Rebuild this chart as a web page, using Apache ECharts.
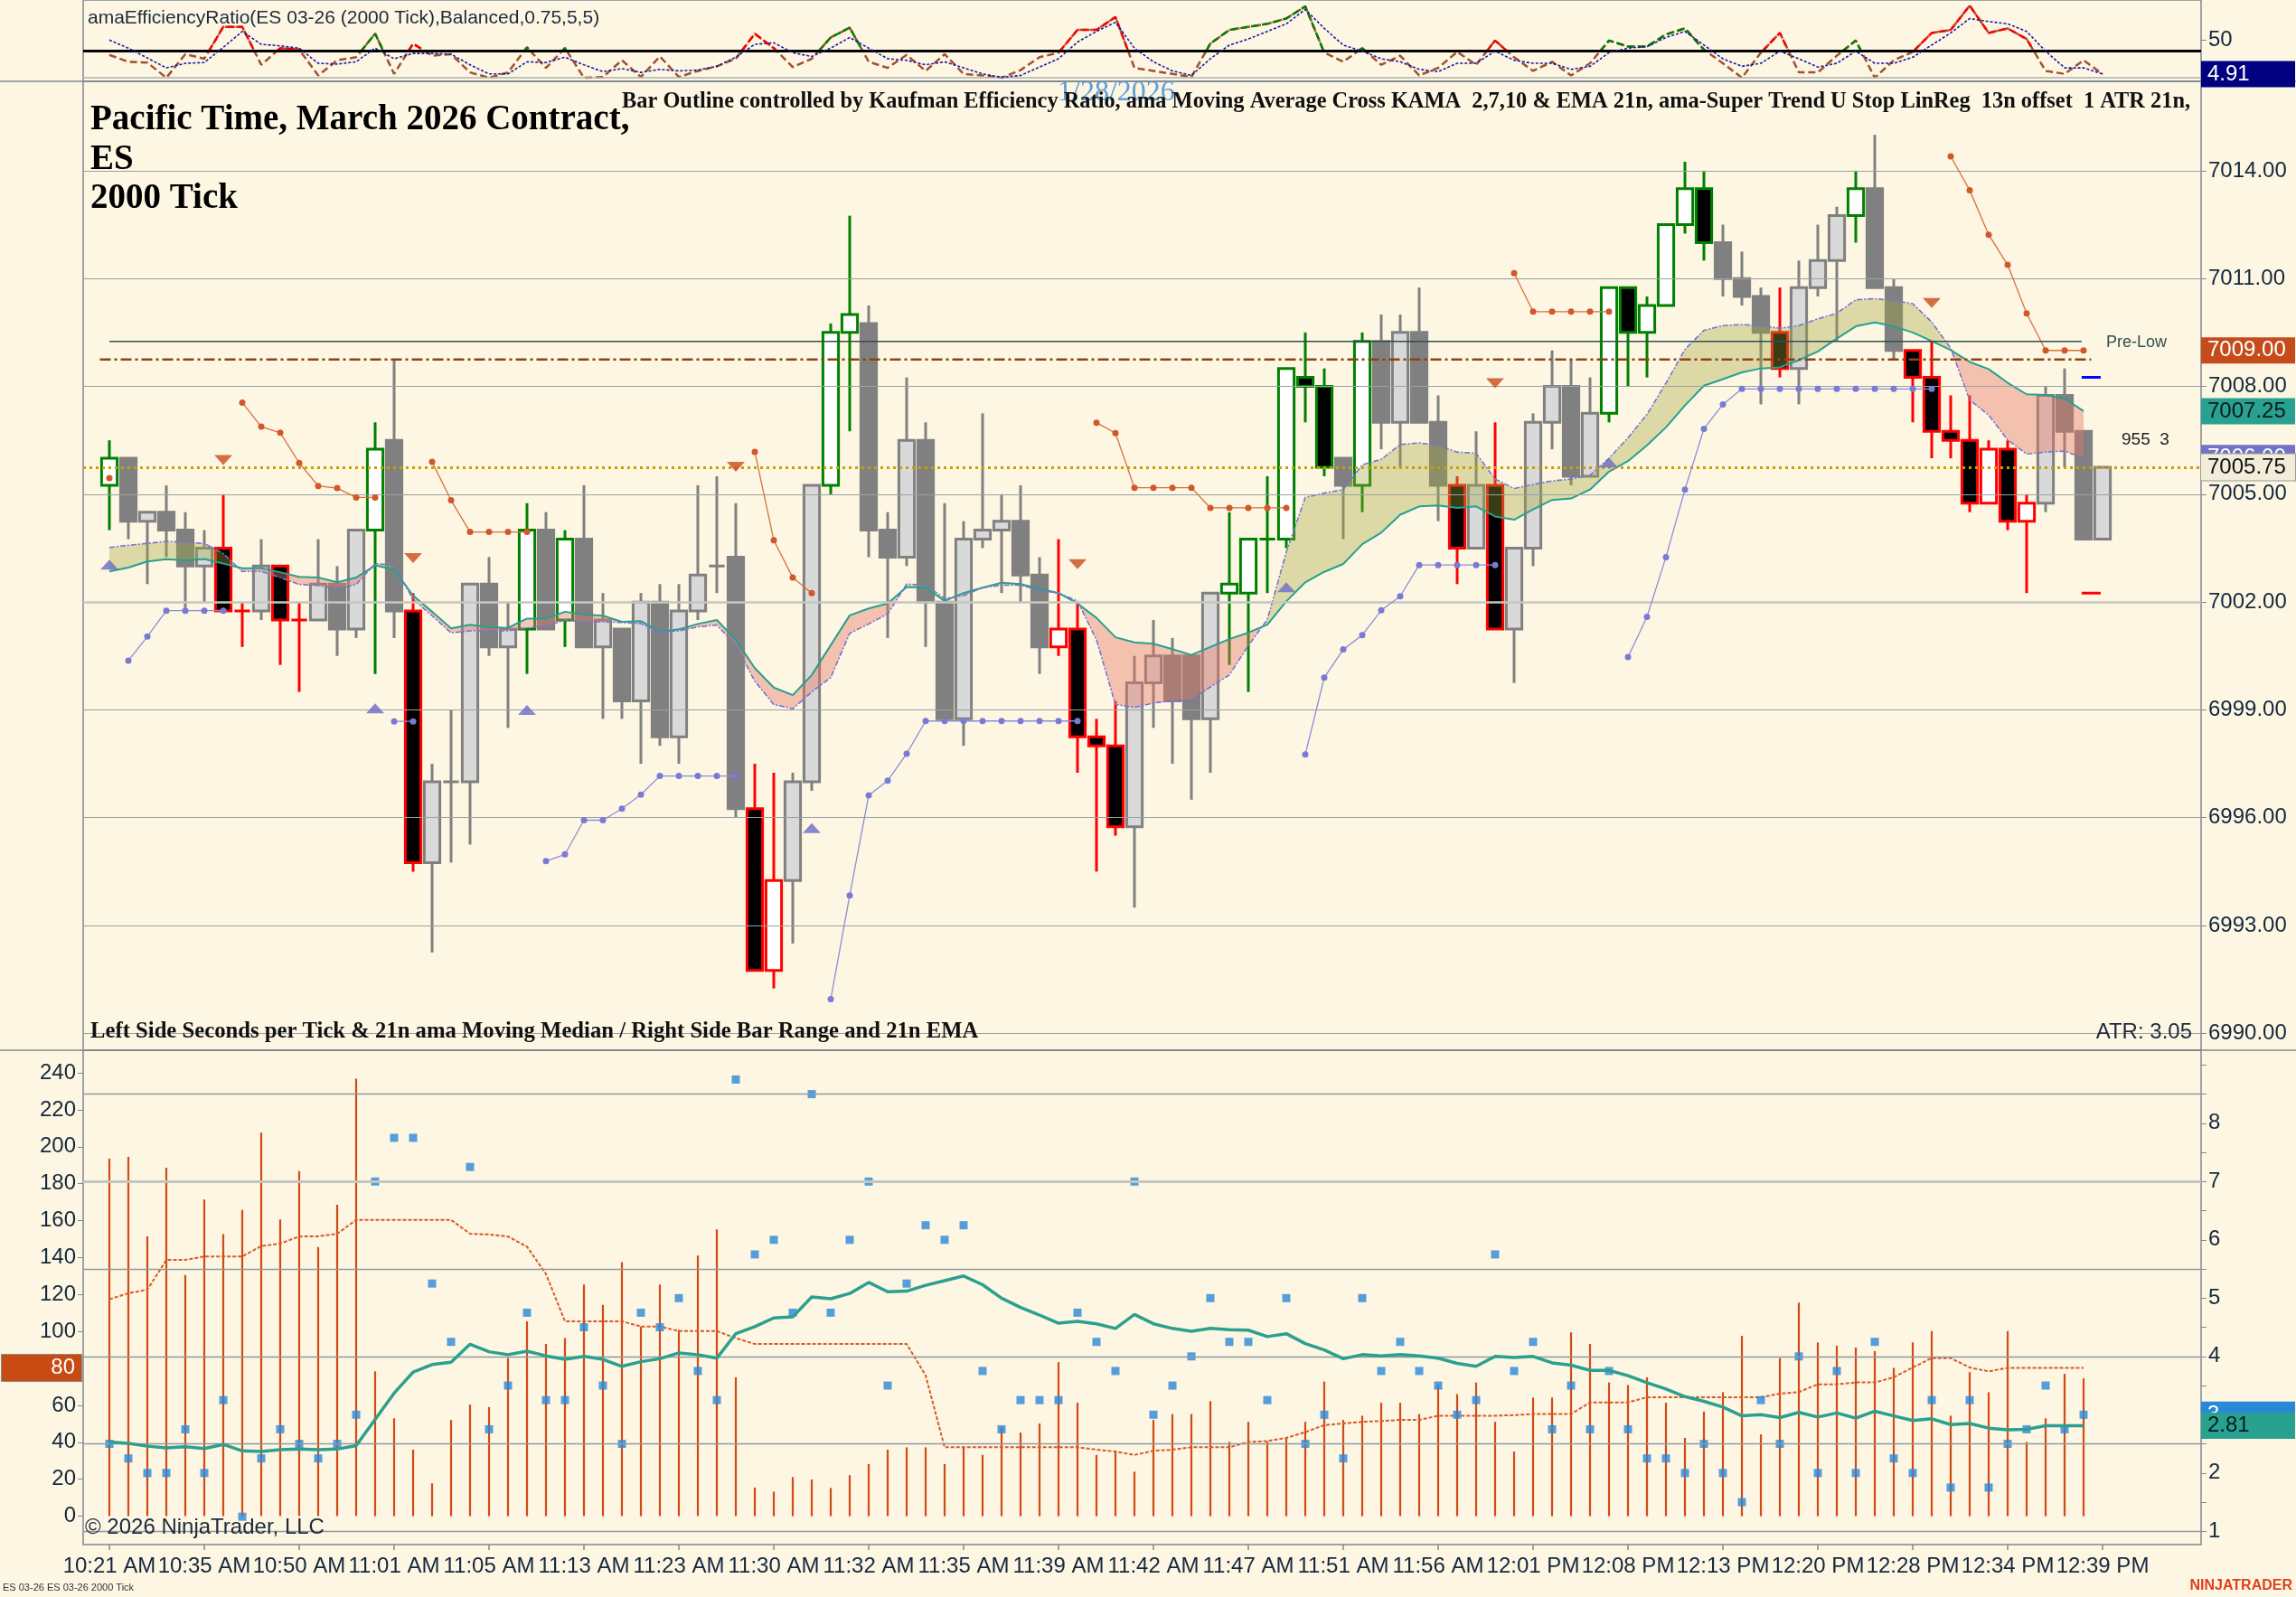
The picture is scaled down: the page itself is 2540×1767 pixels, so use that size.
<!DOCTYPE html>
<html><head><meta charset="utf-8">
<script src="https://cdn.jsdelivr.net/npm/echarts@6.0.0/dist/echarts.min.js"></script>
<style>html,body{margin:0;padding:0;background:#fdf6e3;}#c{width:2540px;height:1767px;}</style>
</head><body><div id="c"></div><script>
// ---------------- DATA ----------------
const tickLabels = ['10:21 AM','10:35 AM','10:50 AM','11:01 AM','11:05 AM','11:13 AM','11:23 AM','11:30 AM','11:32 AM','11:35 AM','11:39 AM','11:42 AM','11:47 AM','11:51 AM','11:56 AM','12:01 PM','12:08 PM','12:13 PM','12:20 PM','12:28 PM','12:34 PM','12:39 PM'];
const priceTicks = [6990,6993,6996,6999,7002,7005,7008,7011,7014];
const secTicks = [0,20,40,60,80,100,120,140,160,180,200,220,240];
const rangeTicks = [1,2,3,4,5,6,7,8];
const rangeGrid = [1,2.5,4,5.5,7,8.5];

const openP = [7005.25,7006.0,7004.25,7004.5,7004.0,7003.0,7003.5,7001.75,7001.75,7003.0,
7001.5,7001.5,7002.5,7001.25,7004.0,7006.5,7001.75,6994.75,6997.0,6997.0,
7002.5,7000.75,7001.25,7004.0,7001.5,7003.75,7000.75,7001.25,6999.25,7002.0,
6998.25,7001.75,7003.0,7003.25,6996.25,6991.75,6994.25,6997.0,7005.25,7009.5,
7009.75,7004.0,7003.25,7006.5,7002.0,6998.75,7003.75,7004.0,7004.25,7002.75,
7000.75,7001.25,6998.25,6998.0,6995.75,6999.75,7000.5,7000.5,6998.75,7002.25,
7002.25,7003.75,7003.75,7008.25,7008.0,7006.0,7005.25,7009.25,7007.0,7009.5,
7007.0,7005.25,7003.5,7005.25,7001.25,7003.5,7007.0,7008.0,7005.5,7007.25,
7010.75,7009.5,7010.25,7012.5,7013.5,7012.0,7011.0,7010.5,7009.5,7008.5,
7010.75,7011.5,7012.75,7013.5,7010.75,7009.0,7008.25,7006.75,7006.5,7004.75,
7006.25,7004.25,7004.75,7007.75,7006.75,7003.75];
const highP = [7006.5,7006.0,7004.5,7005.25,7004.5,7004.0,7005.0,7002.0,7003.75,7003.0,
7002.0,7003.75,7003.0,7004.0,7007.0,7008.75,7002.25,6997.5,6999.0,7002.5,
7003.25,7002.0,7004.75,7004.5,7004.0,7005.25,7002.25,7001.25,7002.25,7002.5,
7002.5,7005.25,7005.5,7004.75,6997.5,6997.25,6997.25,7005.25,7009.75,7012.75,
7010.25,7004.5,7008.25,7007.0,7004.75,7004.25,7007.25,7005.0,7005.25,7003.25,
7003.75,7002.0,6998.75,6999.25,7000.5,7001.5,7001.0,7000.5,7002.25,7004.5,
7003.75,7005.5,7008.5,7009.5,7008.5,7006.0,7009.5,7010.0,7010.0,7010.75,
7007.75,7005.5,7006.75,7007.0,7003.5,7007.25,7009.0,7008.75,7008.25,7010.75,
7010.75,7010.5,7012.5,7014.25,7014.0,7012.5,7011.75,7010.75,7010.75,7011.5,
7012.5,7013.0,7014.0,7015.0,7011.0,7009.0,7009.25,7007.75,7007.75,7006.5,
7006.5,7005.0,7008.0,7008.5,7006.75,7005.75];
const lowP = [7004.0,7003.75,7002.5,7003.25,7001.75,7002.0,7001.75,7000.75,7001.5,7000.25,
6999.5,7001.5,7000.5,7001.0,7000.0,7001.0,6994.5,6992.25,6994.75,6995.25,
7000.5,6998.5,7000.0,7001.25,7000.75,7000.75,6998.75,6998.75,6997.5,6998.0,
6997.5,7001.5,7002.25,6996.0,6991.75,6991.25,6992.5,6996.75,7005.0,7006.75,
7003.25,7001.0,7003.0,7000.75,6998.75,6998.0,7003.5,7002.25,7002.0,7000.0,
7000.5,6997.25,6994.5,6995.5,6993.5,6998.5,6997.5,6996.5,6997.25,7000.25,
6999.5,7002.25,7003.5,7007.0,7005.5,7003.75,7004.5,7006.25,7005.75,7007.0,
7004.25,7002.5,7003.5,7001.25,6999.75,7003.0,7006.25,7005.25,7005.5,7007.0,
7008.0,7008.25,7010.25,7012.25,7011.5,7010.5,7010.25,7007.5,7008.25,7007.5,
7010.5,7009.25,7012.0,7010.75,7008.75,7007.0,7006.0,7006.0,7004.5,7004.75,
7004.0,7002.25,7004.5,7005.75,7003.75,7003.75];
const closeP = [7006.0,7004.25,7004.5,7004.0,7003.0,7003.5,7001.75,7001.75,7003.0,7001.5,
7001.5,7002.5,7001.25,7004.0,7006.25,7001.75,6994.75,6997.0,6997.0,7002.5,
7000.75,7001.25,7004.0,7001.25,7003.75,7000.75,7001.5,6999.25,7002.0,6998.25,
7001.75,7002.75,7003.0,6996.25,6991.75,6994.25,6997.0,7005.25,7009.5,7010.0,
7004.0,7003.25,7006.5,7002.0,6998.75,7003.75,7004.0,7004.25,7002.75,7000.75,
7001.25,6998.25,6998.0,6995.75,6999.75,7000.5,6999.25,6998.75,7002.25,7002.5,
7003.75,7003.75,7008.5,7008.0,7005.75,7005.25,7009.25,7007.0,7009.5,7007.0,
7005.25,7003.5,7005.25,7001.25,7003.5,7007.0,7008.0,7005.5,7007.25,7010.75,
7009.5,7010.25,7012.5,7013.5,7012.0,7011.0,7010.5,7009.5,7008.5,7010.75,
7011.5,7012.75,7013.5,7010.75,7009.0,7008.25,7006.75,7006.5,7004.75,7006.25,
7004.25,7004.75,7007.75,7006.75,7003.75,7005.75];
// bar outline: g = efficient up, r = efficient down, n = neutral
const outlineFlags = 'gnnnnnrrnr'+'rnnngnrnnn'+'nngngnnnnn'+'nnnnrrnngg'+'nnnnnnnnnn'+'rrrrnnnnng'+'gggggngnnn'+'nrnrnnnnng'+'gggggnnnrn'+'nngnnrrrrr'+'rrnnnn';

const emaP = [7002.85,7002.96,7003.13,7003.19,7003.16,7003.2,7003.07,7002.94,7002.94,7002.83,
7002.7,7002.68,7002.55,7002.68,7003.02,7002.9,7002.18,7001.73,7001.27,7001.37,
7001.3,7001.28,7001.54,7001.54,7001.73,7001.65,7001.62,7001.45,7001.47,7001.17,
7001.24,7001.39,7001.5,7000.95,7000.16,6999.62,6999.41,6999.97,7000.8,7001.63,
7001.82,7001.96,7002.42,7002.4,7002.03,7002.25,7002.4,7002.54,7002.5,7002.37,
7002.25,7001.96,7001.56,7001.02,7000.88,7000.84,7000.69,7000.53,7000.75,7000.97,
7001.15,7001.37,7002.02,7002.55,7002.84,7003.06,7003.61,7003.93,7004.43,7004.66,
7004.69,7004.62,7004.66,7004.38,7004.29,7004.58,7004.84,7004.88,7005.13,7005.63,
7005.92,7006.36,7006.86,7007.47,7008.02,7008.2,7008.39,7008.5,7008.53,7008.73,
7008.97,7009.33,7009.67,7009.78,7009.67,7009.5,7009.26,7009.01,7008.68,7008.48,
7008.1,7007.78,7007.76,7007.66,7007.31,null];
const kamaP = [7003.52,7003.58,7003.63,7003.69,7003.66,7003.63,7003.35,7002.85,7002.85,7002.68,
7002.49,7002.46,7002.37,7002.49,7003.07,7003.02,7002.07,7001.62,7001.14,7001.2,
7001.2,7001.2,7001.28,7001.33,7001.5,7001.45,7001.45,7001.43,7001.4,7001.17,
7001.2,7001.31,7001.36,7000.8,6999.8,6999.15,6999.03,6999.5,6999.9,7001.13,
7001.39,7001.67,7002.5,7002.47,7002.1,7002.18,7002.4,7002.47,7002.47,7002.33,
7002.25,7002.03,7000.95,6999.15,6999.07,6999.19,6999.25,6999.28,6999.64,6999.97,
7000.79,7001.51,7003.39,7004.91,7005.03,7005.13,7005.82,7005.97,7006.38,7006.43,
7006.36,7006.17,7006.14,7005.42,7005.16,7005.27,7005.37,7005.42,7005.53,7006.0,
7006.57,7007.22,7008.09,7009.03,7009.56,7009.69,7009.72,7009.69,7009.62,7009.69,
7009.88,7010.03,7010.41,7010.44,7010.39,7010.3,7009.79,7009.06,7007.62,7007.2,
7006.51,7006.12,7006.17,7006.2,7006.01,null];

const stopDown = [7005.45,null,null,null,null,null,null,7007.55,7006.88,7006.71,
7005.87,7005.23,7005.17,7004.91,7004.91,null,null,7005.9,7004.83,7003.95,
7003.95,7003.95,7003.95,null,null,null,null,null,null,null,
null,null,null,null,7006.18,7003.72,7002.68,7002.25,null,null,
null,null,null,null,null,null,null,null,null,null,
null,null,7006.99,7006.7,7005.18,7005.18,7005.18,7005.18,7004.62,7004.62,
7004.62,7004.62,7004.62,null,null,null,null,null,null,null,
null,null,null,null,7011.15,7010.08,7010.08,7010.08,7010.08,7010.08,
null,null,null,null,null,null,null,null,null,null,
null,null,null,null,null,null,null,7014.4,7013.46,7012.22,
7011.38,7010.03,7009.0,7009.0,7009.0,null];
const stopUp = [null,7000.37,7001.04,7001.76,7001.76,7001.76,7001.76,null,null,null,
null,null,null,null,null,6998.68,6998.68,null,null,null,
null,null,null,6994.79,6994.98,6995.93,6995.93,6996.25,6996.64,6997.16,
6997.16,6997.16,6997.16,6997.16,null,null,null,null,6990.95,6993.84,
6996.62,6997.03,6997.78,6998.69,6998.69,6998.69,6998.69,6998.69,6998.69,6998.69,
6998.69,6998.69,null,null,null,null,null,null,null,null,
null,null,null,6997.76,6999.9,7000.68,7001.08,7001.77,7002.16,7003.03,
7003.03,7003.03,7003.03,7003.03,null,null,null,null,null,null,
7000.47,7001.59,7003.25,7005.13,7006.82,7007.5,7007.93,7007.93,7007.93,7007.93,
7007.93,7007.93,7007.93,7007.93,7007.93,7007.93,7007.93,null,null,null,
null,null,null,null,null,null];
const trendDownMarks = [[6,7005.95],[16,7003.22],[33,7005.76],[51,7003.05],[73,7008.09],[96,7010.32]];
const trendUpMarks = [[0,7003.04],[14,6999.04],[22,6999.0],[37,6995.71],[62,7002.41],[79,7005.88]];
const preLowLevel = 7009.25;
const pivotLevel = 7008.75;
const lastPrice = 7005.75;
const projHigh = 7008.25, projLow = 7002.25;

const erRaw = [30,21,20,0,31,25,67,67,17,39,37,3,23,27,58,5,45,29,31,7,
0,7,40,13,39,0,1,23,1,28,1,9,15,25,58,39,14,25,53,66,
21,13,30,9,31,5,3,0,10,27,33,63,63,80,13,9,5,1,45,63,
67,71,78,94,33,21,39,17,29,3,13,34,17,49,27,9,21,3,19,49,
41,41,57,65,37,19,0,33,59,7,7,29,49,0,23,34,59,63,95,59,
65,51,9,5,23,4.91];
const erSmooth = [49.6,39,26,13,19,20,40,61,44,42,39,19,18,21,39,25,32,32,31,17,
5,5,21,20,27,17,8,12,7,11,9,10,15,27,44,46,33,28,39,53,
39,25,23,17,21,13,5,0.5,3,14,25,47,61,73,39,21,9,3,25,43,
51,61,71,90,65,43,35,25,21,11,8,19,19,35,23,19,19,11,15,33,
39,41,53,61,43,25,15,19,35,25,14,19,35,19,19,27,43,59,78,74,
71,61,35,13,13,5];
const erFlags = '------rr-r'+'r---g-r---'+'--g-g-----'+'----rr--gg'+'----------'+'-rrr----gg'+'gggg--g---'+'---r-----g'+'ggggg---r-'+'--g---rrrr'+'rr----';
const erThreshold = 35;

const secsPerTick = [193.6,194.5,151.5,188.7,130.5,171.4,152.7,165.8,207.6,160.6,
186.8,145.7,168.6,236.8,78.4,53,36,17.8,52.1,60.4,
59.1,85.6,105.5,93.2,96.4,125.4,114.4,137.5,102.7,125.4,
100.8,141.1,155.3,75.2,15.5,13.3,21.2,19.9,15.3,22.2,
28.2,36,37.3,37.3,28.2,37.3,33.2,48.1,45.3,50.2,
83.4,61.4,33.2,35,24.1,52.1,55.3,55.3,62.3,40.2,
51.1,40.5,42.4,51.1,72.9,52.1,54.4,61.4,61.4,55.3,
71,66.1,72.4,51.1,35,64.2,64.2,99.5,93.2,72.4,
71,75.2,61.4,42.4,56.6,67.1,97.6,44.3,85.6,115.6,
94.1,92.3,91.3,89.4,80.3,94.1,100.2,54.4,78,67.1,
100.2,40.2,53,77.1,74.6];
const secsMedian = [117.4,120.7,122.6,138.7,138.7,140.6,140.6,140.6,146.2,147.6,
151.4,151.5,152.9,160.4,160.4,160.4,160.4,160.4,160.4,152.9,
152.5,151.4,145.9,131.1,105.5,105.5,105.5,105.5,102.7,102.7,
100.2,100.2,100.2,96.4,93.2,93.2,93.2,93.2,93.2,93.2,
93.2,93.2,93.2,76.2,37.3,37.3,37.3,37.3,37.3,37.3,
37.3,37.3,36,35,33.2,35.4,36,37.3,37.3,37.3,
40.2,40.7,42.4,45.5,49.3,50.2,51.1,51.5,52.1,52.1,
54.4,54.4,54.4,54.4,54.7,55.3,55.3,55.3,61.6,61.6,
61.6,64.4,64.4,64.4,64.4,64.4,64.4,64.4,66.3,67.2,
71.4,71.4,72.4,72.4,75.2,80.5,85.6,85.6,80.5,78.4,
80.3,80.3,80.3,80.3,80.3];
const barRange = [2.5,2.25,2,2,2.75,2,3.25,1.25,2.25,2.75,
2.5,2.25,2.5,3,7,7.75,7.75,5.25,4.25,7.25,
2.75,3.5,4.75,3.25,3.25,4.5,3.5,2.5,4.75,4.5,
5,3.75,3.25,8.75,5.75,6,4.75,8.5,4.75,6,
7,3.5,5.25,6.25,6,6.25,3.75,2.75,3.25,3.25,
3.25,4.75,4.25,3.75,7,3,3.5,4,5,4.25,
4.25,3.25,5,2.5,3,2.25,5,3.75,4.25,3.75,
3.5,3,3.25,5.75,3.75,4.25,2.75,3.5,2.75,3.75,
2.75,2.25,2.25,2,2.5,2,1.5,3.25,2.5,4,
2,3.75,2,4.25,2.25,2,3.25,1.75,3.25,1.75,
2.5,2.75,3.5,2.75,3];
const rangeEma = [2.53,2.51,2.46,2.43,2.45,2.42,2.49,2.38,2.37,2.4,
2.41,2.4,2.41,2.47,2.92,3.37,3.73,3.86,3.9,4.21,
4.08,4.03,4.09,4.01,3.95,4.0,3.95,3.83,3.91,3.96,
4.06,4.03,3.97,4.39,4.51,4.66,4.68,5.02,4.99,5.08,
5.27,5.11,5.12,5.22,5.3,5.38,5.23,5.0,4.84,4.71,
4.57,4.6,4.56,4.48,4.72,4.56,4.48,4.43,4.48,4.46,
4.45,4.34,4.39,4.22,4.11,3.96,4.03,4.01,4.03,4.01,
3.97,3.88,3.83,4.0,3.98,4.0,3.89,3.85,3.76,3.76,
3.67,3.55,3.44,3.31,3.23,3.13,2.98,3.0,2.95,3.04,
2.96,3.03,2.94,3.06,2.98,2.9,2.93,2.83,2.85,2.77,
2.74,2.75,2.81,2.81,2.81];

// ---------------- CHART ----------------
const SANS = '"Liberation Sans", Arial, sans-serif';
const SERIF = '"Liberation Serif", "Times New Roman", serif';
const AX = '#7f8a90', TXT = '#14283c', CLEAR = 'rgba(0,0,0,0)';
const N = openP.length;
const xMin = -1.381, xMax = 110.19;
const pts = arr => arr.map((v, i) => [i, v == null ? '-' : v]);
const labelTicks = tickLabels.map((_, k) => k * 5);

const candleData = openP.map((o, i) => [i, o, closeP[i], lowP[i], highP[i], 'ngr'.indexOf(outlineFlags[i])]);
const fillData = [];
for (let i = 0; i < N - 1; i++) {
  if (kamaP[i] != null && kamaP[i + 1] != null) fillData.push([i, kamaP[i], emaP[i], kamaP[i + 1], emaP[i + 1]]);
}

// Efficiency-ratio segments above the threshold, coloured by direction flag
function erOverlay(c) {
  const out = [];
  let last = null;
  const T = erThreshold;
  for (let i = 0; i < N - 1; i++) {
    if (!(erFlags[i] === c || erFlags[i + 1] === c)) continue;
    const a = erRaw[i], b = erRaw[i + 1];
    if (a < T && b < T) continue;
    let p0 = [i, a], p1 = [i + 1, b];
    if (a < T) p0 = [i + (T - a) / (b - a), T];
    if (b < T) p1 = [i + (T - a) / (b - a), T];
    if (last && last[0] === p0[0] && last[1] === p0[1]) { out.push(p1); }
    else { if (out.length) out.push([p0[0], '-']); out.push(p0, p1); }
    last = p1;
  }
  return out;
}

function renderCandle(params, api) {
  const i = api.value(0), o = api.value(1), c = api.value(2), l = api.value(3), h = api.value(4), f = api.value(5);
  const up = c >= o;
  const stroke = f === 1 ? '#008000' : f === 2 ? '#ff0000' : '#808080';
  const fill = f === 0 ? (up ? '#d9d9d9' : '#808080') : (up ? '#ffffff' : '#000000');
  const pH = api.coord([i, h]), pL = api.coord([i, l]);
  const pT = api.coord([i, Math.max(o, c)]), pB = api.coord([i, Math.min(o, c)]);
  const bw = api.size([1, 0])[0] * 0.82;
  return { type: 'group', children: [
    { type: 'line', shape: { x1: pH[0], y1: pH[1], x2: pL[0], y2: pL[1] }, style: { stroke, lineWidth: 3 } },
    { type: 'rect', shape: { x: pT[0] - bw / 2, y: pT[1], width: bw, height: Math.max(pB[1] - pT[1], 0) }, style: { fill, stroke, lineWidth: 3 } }
  ]};
}
function renderFill(params, api) {
  const i = api.value(0), k0 = api.value(1), e0 = api.value(2), k1 = api.value(3), e1 = api.value(4);
  const d0 = k0 - e0, d1 = k1 - e1;
  const col = d => d >= 0 ? 'rgba(160,165,60,0.36)' : 'rgba(228,120,100,0.42)';
  const P = (x, y) => api.coord([x, y]);
  const polys = [];
  if (d0 * d1 >= 0) {
    const d = Math.abs(d0) >= Math.abs(d1) ? d0 : d1;
    polys.push({ p: [P(i, k0), P(i + 1, k1), P(i + 1, e1), P(i, e0)], c: col(d) });
  } else {
    const t = d0 / (d0 - d1), xm = i + t, ym = k0 + t * (k1 - k0);
    polys.push({ p: [P(i, k0), P(xm, ym), P(i, e0)], c: col(d0) });
    polys.push({ p: [P(xm, ym), P(i + 1, k1), P(i + 1, e1)], c: col(d1) });
  }
  return { type: 'group', children: polys.map(q => ({ type: 'polygon', shape: { points: q.p }, style: { fill: q.c } })) };
}

const boxLabel = (text, bg, fg, extra) => Object.assign({
  show: true, position: 'end', formatter: text, backgroundColor: bg, color: fg,
  fontSize: 24, fontFamily: SANS, padding: [3, 7, 2, 7], width: 90, distance: 0
}, extra || {});
const hidden = { color: CLEAR, width: 0 };

const series = [];
// ER panel
series.push({ type: 'line', xAxisIndex: 0, yAxisIndex: 0, data: pts(erRaw), symbol: 'none', z: 3,
  lineStyle: { color: '#a0522d', width: 2.5, type: [8, 4] },
  markLine: { silent: true, symbol: 'none', animation: false, data: [
    { yAxis: 0, lineStyle: { color: '#a8b2b2', width: 1.5, type: 'solid' }, label: { show: false } },
    { yAxis: erThreshold, lineStyle: { color: '#000', width: 3, type: 'solid' }, label: { show: false } }
  ]}});
series.push({ type: 'line', xAxisIndex: 0, yAxisIndex: 0, data: erOverlay('r'), symbol: 'none', z: 4, lineStyle: { color: '#ff0000', width: 2.5, type: [8, 4] } });
series.push({ type: 'line', xAxisIndex: 0, yAxisIndex: 0, data: erOverlay('g'), symbol: 'none', z: 4, lineStyle: { color: '#008000', width: 2.5, type: [8, 4] } });
series.push({ type: 'line', xAxisIndex: 0, yAxisIndex: 0, data: pts(erSmooth), symbol: 'none', z: 5,
  lineStyle: { color: '#1a1aa0', width: 1.6, type: [3, 2] },
  markLine: { silent: true, symbol: 'none', animation: false, data: [
    { yAxis: erRaw[N - 1], lineStyle: hidden, label: boxLabel(erRaw[N - 1].toFixed(2), '#000080', '#ffffff') }
  ]}});

// Price panel gridlines (behind)
series.push({ type: 'line', xAxisIndex: 1, yAxisIndex: 1, data: pts(emaP), symbol: 'none', z: 0, lineStyle: hidden,
  markLine: { silent: true, symbol: 'none', animation: false, data: priceTicks.map(v => ({ yAxis: v,
    lineStyle: v === 7002 ? { color: '#c4c6c0', width: 2.5, type: 'solid' } : { color: '#98a3a3', width: 1.2, type: 'solid' }, label: { show: false } })) }});
series.push({ type: 'custom', xAxisIndex: 1, yAxisIndex: 1, data: candleData, renderItem: renderCandle, encode: { x: 0, y: [1, 2, 3, 4] }, z: 2, clip: true });
series.push({ type: 'custom', xAxisIndex: 1, yAxisIndex: 1, data: fillData, renderItem: renderFill, encode: { x: 0, y: [1, 2] }, z: 3, clip: true });
series.push({ type: 'line', xAxisIndex: 1, yAxisIndex: 1, data: pts(emaP), symbol: 'none', z: 4, lineStyle: { color: '#26a08e', width: 2 } });
series.push({ type: 'line', xAxisIndex: 1, yAxisIndex: 1, data: pts(kamaP), symbol: 'none', z: 4, lineStyle: { color: '#7474d6', width: 1.6, type: [6, 2, 2, 2] } });
series.push({ type: 'line', xAxisIndex: 1, yAxisIndex: 1, data: pts(stopDown), z: 5, symbol: 'circle', symbolSize: 7, showAllSymbol: true,
  itemStyle: { color: '#d0582a' }, lineStyle: { color: '#d8703e', width: 1.3 } });
series.push({ type: 'line', xAxisIndex: 1, yAxisIndex: 1, data: pts(stopUp), z: 5, symbol: 'circle', symbolSize: 7, showAllSymbol: true,
  itemStyle: { color: '#7a7ad4' }, lineStyle: { color: '#8c8cd8', width: 1.3 } });
series.push({ type: 'scatter', xAxisIndex: 1, yAxisIndex: 1, data: trendDownMarks, symbol: 'triangle', symbolRotate: 180, symbolSize: [20, 11], z: 5, itemStyle: { color: '#c84c1c' } });
series.push({ type: 'scatter', xAxisIndex: 1, yAxisIndex: 1, data: trendUpMarks, symbol: 'triangle', symbolSize: [20, 11], z: 5, itemStyle: { color: '#6c6cc8' } });
series.push({ type: 'line', xAxisIndex: 1, yAxisIndex: 1, data: [[0, preLowLevel], [103.9, preLowLevel]], symbol: 'none', z: 6, lineStyle: { color: '#2f4f4f', width: 1.6 } });
series.push({ type: 'line', xAxisIndex: 1, yAxisIndex: 1, data: [[-0.5, pivotLevel], [104.4, pivotLevel]], symbol: 'none', z: 6, lineStyle: { color: '#8b4513', width: 2.5, type: [12, 4, 3, 4] } });
series.push({ type: 'line', xAxisIndex: 1, yAxisIndex: 1, data: [[103.9, projHigh], [104.9, projHigh]], symbol: 'none', z: 6, lineStyle: { color: '#0000ff', width: 3 } });
series.push({ type: 'line', xAxisIndex: 1, yAxisIndex: 1, data: [[103.9, projLow], [104.9, projLow]], symbol: 'none', z: 6, lineStyle: { color: '#ff0000', width: 3 } });
// price value boxes
const lastStop = stopDown[N - 2], lastEma = emaP[N - 2], lastKama = kamaP[N - 2];
const tick = v => (Math.round(v * 4) / 4).toFixed(2);
series.push({ type: 'line', xAxisIndex: 1, yAxisIndex: 1, data: pts(emaP), symbol: 'none', z: 10, lineStyle: hidden,
  markLine: { silent: true, symbol: 'none', animation: false, data: [
    { yAxis: lastStop, lineStyle: hidden, label: boxLabel(tick(lastStop), '#c54b1b', '#ffffff') },
    { yAxis: lastEma, lineStyle: hidden, label: boxLabel(tick(lastEma), '#29a190', '#0b1a1a') },
    { yAxis: lastKama, lineStyle: hidden, label: boxLabel(tick(lastKama), '#7272c8', '#ffffff') },
    { yAxis: lastPrice, lineStyle: { color: '#c8a000', width: 3, type: [3, 4] }, label: boxLabel(lastPrice.toFixed(2), '#f2ecda', '#111111', { borderColor: '#9a9a90', borderWidth: 1 }) }
  ]}});

// Bottom panel
series.push({ type: 'line', xAxisIndex: 2, yAxisIndex: 3, data: pts(rangeEma), symbol: 'none', z: 0, lineStyle: hidden,
  markLine: { silent: true, symbol: 'none', animation: false, data: rangeGrid.map(v => ({ yAxis: v,
    lineStyle: v === 7 ? { color: '#c4c6c0', width: 3, type: 'solid' } : { color: '#8f9a9e', width: 1.3, type: 'solid' }, label: { show: false } })) }});
series.push({ type: 'bar', xAxisIndex: 2, yAxisIndex: 2, data: pts(secsPerTick), barWidth: 2.2, z: 2, itemStyle: { color: '#d24a14' } });
series.push({ type: 'line', xAxisIndex: 2, yAxisIndex: 2, data: pts(secsMedian), symbol: 'none', z: 3, lineStyle: { color: '#d85a28', width: 2, type: [4, 2] },
  markLine: { silent: true, symbol: 'none', animation: false, data: [
    { yAxis: secsMedian[secsMedian.length - 1], lineStyle: hidden,
      label: boxLabel(String(Math.round(secsMedian[secsMedian.length - 1])), '#c84b14', '#ffffff', { position: 'start', width: 74, align: 'right', distance: 2, borderColor: '#8a8a8a', borderWidth: 1 }) }
  ]}});
series.push({ type: 'scatter', xAxisIndex: 2, yAxisIndex: 3, data: pts(barRange), symbol: 'rect', symbolSize: [9, 9], z: 4, itemStyle: { color: '#2a88d8' } });
series.push({ type: 'line', xAxisIndex: 2, yAxisIndex: 3, data: pts(rangeEma), symbol: 'none', z: 5, lineStyle: { color: '#2ca08e', width: 3.5 },
  markLine: { silent: true, symbol: 'none', animation: false, data: [
    { yAxis: barRange[barRange.length - 1], lineStyle: hidden, label: boxLabel(String(barRange[barRange.length - 1]), '#2a88d8', '#ffffff') },
    { yAxis: rangeEma[rangeEma.length - 1], lineStyle: hidden, label: boxLabel(rangeEma[rangeEma.length - 1].toFixed(2), '#29a190', '#0b1a1a') }
  ]}});

const gridBase = { left: 92, right: 105, show: true, borderColor: AX, borderWidth: 1.5, backgroundColor: 'transparent' };
const xBase = gi => ({ type: 'value', gridIndex: gi, min: xMin, max: xMax, splitLine: { show: false }, axisLine: { show: false, onZero: false },
  axisTick: { show: false }, axisLabel: { show: false } });
const yLab = (vals, fmt, extra) => Object.assign({ customValues: vals, formatter: fmt, fontSize: 24, color: TXT, fontFamily: SANS, margin: 8 }, extra || {});
const yLine = { show: false, onZero: false };

const option = {
  backgroundColor: '#fdf6e3',
  animation: false,
  grid: [
    Object.assign({ top: 0, height: 90 }, gridBase),
    Object.assign({ top: 90, height: 1072 }, gridBase),
    Object.assign({ top: 1162, height: 547 }, gridBase)
  ],
  xAxis: [xBase(0), xBase(1), Object.assign(xBase(2), {
    axisTick: { show: true, customValues: labelTicks, length: 6, lineStyle: { color: AX, width: 1.5 } },
    axisLabel: { show: true, customValues: labelTicks, formatter: v => tickLabels[Math.round(v / 5)], fontSize: 24, color: TXT, fontFamily: SANS, margin: 12 }
  })],
  yAxis: [
    { type: 'value', gridIndex: 0, position: 'right', min: -4.76, max: 102.38, splitLine: { show: false }, axisLine: yLine,
      axisTick: { show: true, customValues: [50], length: 6, lineStyle: { color: AX } }, axisLabel: yLab([50], v => String(v)) },
    { type: 'value', gridIndex: 1, position: 'right', min: 6989.531, max: 7016.487, splitLine: { show: false }, axisLine: yLine,
      axisTick: { show: true, customValues: priceTicks, length: 6, lineStyle: { color: AX } }, axisLabel: yLab(priceTicks, v => v.toFixed(2)) },
    { type: 'value', gridIndex: 2, position: 'left', min: -15.36, max: 252.25, splitLine: { show: false }, axisLine: yLine,
      axisTick: { show: true, customValues: secTicks, length: 6, lineStyle: { color: AX } }, axisLabel: yLab(secTicks, v => String(v)) },
    { type: 'value', gridIndex: 2, position: 'right', min: 0.772, max: 9.253, splitLine: { show: false }, axisLine: yLine,
      axisTick: { show: true, customValues: [1,1.5,2,2.5,3,3.5,4,4.5,5,5.5,6,6.5,7,7.5,8,8.5,9], length: 6, lineStyle: { color: AX } },
      axisLabel: yLab(rangeTicks, v => String(v)) }
  ],
  series,
  graphic: [
    { type: 'line', shape: { x1: 0, y1: 90, x2: 2540, y2: 90 }, style: { stroke: AX, lineWidth: 1.5 }, z: 1 },
    { type: 'line', shape: { x1: 0, y1: 1162, x2: 2540, y2: 1162 }, style: { stroke: AX, lineWidth: 1.5 }, z: 1 },
    { type: 'text', x: 97, y: 20, style: { text: 'amaEfficiencyRatio(ES 03-26 (2000 Tick),Balanced,0.75,5,5)', font: '21px ' + SANS, fill: '#1c2a3c', verticalAlign: 'middle', textVerticalAlign: 'middle' }, z: 20 },
    { type: 'text', x: 1170, y: 103, style: { text: '1/28/2026', font: '32px ' + SERIF, fill: '#5b9fdc', verticalAlign: 'middle', textVerticalAlign: 'middle' }, z: 20 },
    { type: 'text', x: 688, y: 113, style: { text: 'Bar Outline controlled by Kaufman Efficiency Ratio, ama Moving Average Cross KAMA  2,7,10 & EMA 21n, ama-Super Trend U Stop LinReg  13n offset  1 ATR 21n,', font: 'bold 24.4px ' + SERIF, fill: '#111111', verticalAlign: 'middle', textVerticalAlign: 'middle' }, z: 21 },
    { type: 'text', x: 100, y: 133, style: { text: 'Pacific Time, March 2026 Contract,', font: 'bold 39px ' + SERIF, fill: '#000', verticalAlign: 'middle', textVerticalAlign: 'middle' }, z: 20 },
    { type: 'text', x: 100, y: 177, style: { text: 'ES', font: 'bold 39px ' + SERIF, fill: '#000', verticalAlign: 'middle', textVerticalAlign: 'middle' }, z: 20 },
    { type: 'text', x: 100, y: 220, style: { text: '2000 Tick', font: 'bold 39px ' + SERIF, fill: '#000', verticalAlign: 'middle', textVerticalAlign: 'middle' }, z: 20 },
    { type: 'text', x: 100, y: 1142, style: { text: 'Left Side Seconds per Tick & 21n ama Moving Median / Right Side Bar Range and 21n EMA', font: 'bold 24.7px ' + SERIF, fill: '#111111', verticalAlign: 'middle', textVerticalAlign: 'middle' }, z: 20 },
    { type: 'text', x: 2425, y: 1142, style: { text: 'ATR: 3.05', font: '24px ' + SANS, fill: '#1c2a3c', align: 'right', textAlign: 'right', verticalAlign: 'middle', textVerticalAlign: 'middle' }, z: 20 },
    { type: 'text', x: 94, y: 1690, style: { text: '© 2026 NinjaTrader, LLC', font: '24px ' + SANS, fill: '#1c2a3c', verticalAlign: 'middle', textVerticalAlign: 'middle' }, z: 20 },
    { type: 'text', x: 2330, y: 379, style: { text: 'Pre-Low', font: '18px ' + SANS, fill: '#2f4f4f', verticalAlign: 'middle', textVerticalAlign: 'middle' }, z: 20 },
    { type: 'text', x: 2347, y: 487, style: { text: '955  3', font: '19px ' + SANS, fill: '#222', verticalAlign: 'middle', textVerticalAlign: 'middle' }, z: 20 },
    { type: 'text', x: 3, y: 1757, style: { text: 'ES 03-26 ES 03-26 2000 Tick', font: '11px ' + SANS, fill: '#333', verticalAlign: 'middle', textVerticalAlign: 'middle' }, z: 20 },
    { type: 'text', x: 2536, y: 1755, style: { text: 'NINJATRADER', font: 'bold 16px ' + SANS, fill: '#e0401c', align: 'right', textAlign: 'right', verticalAlign: 'middle', textVerticalAlign: 'middle' }, z: 20 }
  ]
};
const chart = echarts.init(document.getElementById('c'), null, { renderer: 'canvas' });
chart.setOption(option);
</script></body></html>
